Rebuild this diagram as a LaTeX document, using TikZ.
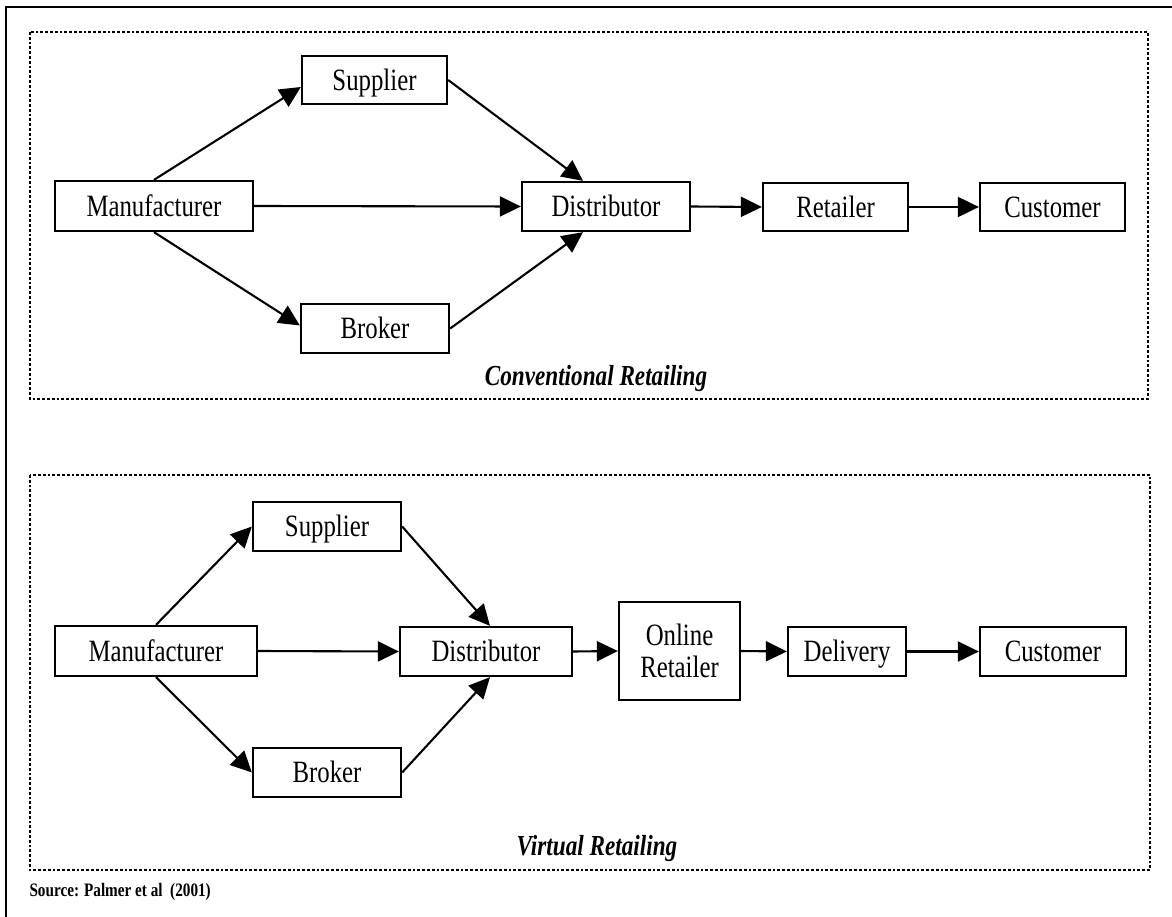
\documentclass[tikz,border=0pt]{standalone}
\usepackage{fontspec}
\setmainfont{Liberation Serif}[FakeStretch=0.8]
\usetikzlibrary{arrows.meta,calc}
\begin{document}
\begin{tikzpicture}[x=1pt,y=-1pt,
  box/.style={draw,line width=2.3pt,minimum width=#1,inner sep=0pt,
    text height=22pt,text depth=1.5pt,
    font=\fontsize{31}{32}\selectfont},
  box/.default=145pt,
  flow/.style={line width=2.1pt,-{Triangle[length=21pt,width=20pt]}},
  panel/.style={line width=2.8pt,dotted},
  caption/.style={font=\fontsize{29}{32}\selectfont\bfseries\itshape}]
\useasboundingbox (0,0) rectangle (1172,917);
% outer frame (only top and left edges fall inside the page)
\draw[line width=2.8pt] (6,917) -- (6,7) -- (1172,7);

% ---------- conventional retailing ----------
\draw[panel] (30,32) rectangle (1148,399);
\node[box=198pt,minimum height=50pt] (man1) at (154,206) {Manufacturer};
\node[box=145pt,minimum height=48pt] (sup1) at (374.5,80) {Supplier};
\node[box=148pt,minimum height=49pt] (bro1) at (375,328.5) {Broker};
\node[box=168pt,minimum height=49pt] (dis1) at (606,206.5) {Distributor};
\node[box=145pt,minimum height=48pt] (ret1) at (835.5,207) {Retailer};
\node[box=145pt,minimum height=48pt] (cus1) at (1052.5,207) {Customer};
\node[caption] (cap1) at (596,379) {Conventional Retailing};

\draw[flow] (man1.north) -- ($(sup1.west)+(0,7)$);
\draw[flow] (man1.south) -- ($(bro1.west)+(0,-3)$);
\draw[flow] (man1.east) -- (dis1.west);
\draw[flow] (sup1.east) -- ($(dis1.north)+(-23,0)$);
\draw[flow] (bro1.east) -- ($(dis1.south)+(-23,0)$);
\draw[flow] (dis1.east) -- (ret1.west);
\draw[flow] (ret1.east) -- (cus1.west);

% ---------- virtual retailing ----------
\draw[panel] (30,475) rectangle (1150,870);
\node[box=202pt,minimum height=50pt] (man2) at (156,651) {Manufacturer};
\node[box=148pt,minimum height=49pt] (sup2) at (327,526.5) {Supplier};
\node[box=148pt,minimum height=49pt] (bro2) at (327,772.5) {Broker};
\node[box=172pt,minimum height=49pt] (dis2) at (486,651.5) {Distributor};
\node[box=121pt,minimum height=98pt,align=center,text height=,text depth=] (onl2) at (679.5,651) {Online\\Retailer};
\node[box=118pt,minimum height=49pt] (del2) at (847,651.5) {Delivery};
\node[box=146pt,minimum height=49pt] (cus2) at (1053,651.5) {Customer};
\node[caption] (cap2) at (597,849) {Virtual Retailing};

\draw[flow] (man2.north) -- (sup2.west);
\draw[flow] (man2.south) -- (bro2.west);
\draw[flow] (man2.east) -- (dis2.west);
\draw[flow] (sup2.east) -- ($(dis2.north)+(4,0)$);
\draw[flow] (bro2.east) -- ($(dis2.south)+(4,0)$);
\draw[flow] (dis2.east) -- (onl2.west);
\draw[flow] (onl2.east) -- (del2.west);
\draw[flow] (del2.east) -- (cus2.west);

\node[anchor=west,font=\fontsize{19}{20}\selectfont\bfseries] (src) at (26,892) {Source: Palmer et al\ \ (2001)};
\end{tikzpicture}
\end{document}
